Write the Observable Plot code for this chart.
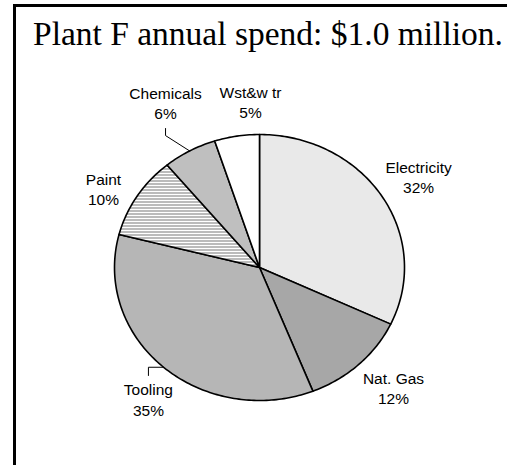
<!DOCTYPE html>
<html><head><meta charset="utf-8">
<script src="https://cdn.jsdelivr.net/npm/d3@7"></script>
<script src="https://cdn.jsdelivr.net/npm/@observablehq/plot@0.6"></script>
<style>
html,body{margin:0;padding:0;background:#fff;}
#wrap{position:relative;width:507px;height:465px;overflow:hidden;background:#fff;}
#frame{position:absolute;left:13px;top:4px;width:700px;height:700px;border-top:3px solid #000;border-left:3px solid #000;box-sizing:border-box;}
#title{position:absolute;left:33px;top:17px;font-family:"Liberation Serif","Times New Roman",serif;font-size:33.5px;line-height:33.5px;white-space:nowrap;color:#000;}
#chart{position:absolute;left:0;top:60px;}
</style></head>
<body>
<div id="wrap">
  <div id="frame"></div>
  <div id="title">Plant F annual spend: $1.0 million.</div>
  <div id="chart"></div>
</div>
<script>
// ---- data ----
const categories = ["Electricity", "Nat. Gas", "Tooling", "Paint", "Chemicals", "Wst&w tr"];
const shares = [32, 12, 35, 10, 6, 5];
const pctLabels = ["32%", "12%", "35%", "10%", "6%", "5%"];

// ---- layout (pie units, y up) ----
const labelPos = [[1.097, 0.684], [0.924, -0.902], [-0.766, -0.989], [-1.076, 0.594], [-0.648, 1.241], [-0.062, 1.248]];
// leader lines: slice index, start y, elbow y (x taken from label)
const leaders = [{i: 4, y0: 1.045, y1: 0.992}, {i: 2, y0: -0.812, y1: null}];
const fills = ["url(#pElec)", "url(#pGas)", "url(#pTool)", "url(#pPaint)", "url(#pChem)", "#ffffff"];

// ---- geometry from data ----
const total = d3.sum(shares);
let acc = 0;
const slices = categories.map((c, i) => {
  const a0 = acc / total * 2 * Math.PI;
  acc += shares[i];
  const a1 = acc / total * 2 * Math.PI;
  return {c, i, a0, a1, mid: (a0 + a1) / 2};
});
function slicePts(s) {
  const p = [{x: 0, y: 0}];
  const n = Math.max(2, Math.ceil((s.a1 - s.a0) / (Math.PI / 180)));
  for (let k = 0; k <= n; k++) {
    const a = s.a0 + (s.a1 - s.a0) * k / n;
    p.push({x: Math.sin(a), y: Math.cos(a)});
  }
  p.push({x: 0, y: 0});
  return p;
}
const labels = categories.map((c, i) => ({x: labelPos[i][0], y: labelPos[i][1], t: c + "\n" + pctLabels[i]}));
const leaderPts = [];
leaders.forEach((L, k) => {
  const s = slices[L.i];
  const ex = Math.sin(s.mid), ey = Math.cos(s.mid);
  const lx = labelPos[L.i][0];
  leaderPts.push({k, x: lx, y: L.y0});
  leaderPts.push({k, x: lx, y: L.y1 == null ? ey : L.y1});
  leaderPts.push({k, x: ex, y: ey});
});

const cx = 259, cy = 207, rx = 145, ry = 133;
const svg = Plot.plot({
  width: 507,
  height: 405,
  margin: 0,
  x: {domain: [-1, 1], range: [cx - rx, cx + rx], axis: null},
  y: {domain: [-1, 1], range: [cy + ry, cy - ry], axis: null},
  style: {fontFamily: "'Liberation Sans', Arial, sans-serif", fontSize: "15.5px", background: "transparent", color: "#000"},
  marks: [
    ...slices.map(s => Plot.line(slicePts(s), {x: "x", y: "y", fill: fills[s.i], stroke: "#000", strokeWidth: 1.6, strokeLinejoin: "round", curve: "linear"})),
    Plot.line(leaderPts, {x: "x", y: "y", z: "k", stroke: "#000", strokeWidth: 1}),
    Plot.text(labels, {x: "x", y: "y", text: "t", fontSize: 15.5, lineHeight: 1.3, fill: "#000", textAnchor: "middle"})
  ]
});

// patterns
const defs = d3.select(svg).insert("defs", ":first-child");
function pattern(id, w, h, bg, cells) {
  const p = defs.append("pattern").attr("id", id).attr("patternUnits", "userSpaceOnUse").attr("width", w).attr("height", h);
  p.append("rect").attr("width", w).attr("height", h).attr("fill", bg);
  cells.forEach(([x, y, cw, ch, col]) => p.append("rect").attr("x", x).attr("y", y).attr("width", cw).attr("height", ch).attr("fill", col));
}
pattern("pElec", 2, 2, "#ffffff", [[0, 0, 1, 1, "#a8a8a8"]]);
pattern("pGas", 2, 2, "#d4d4d4", [[0, 0, 1, 1, "#7a7a7a"], [1, 1, 1, 1, "#7a7a7a"]]);
pattern("pChem", 2, 2, "#e4e4e4", [[0, 0, 1, 1, "#9a9a9a"], [1, 1, 1, 1, "#9a9a9a"]]);
pattern("pTool", 2, 2, "#e2e2e2", [[0, 0, 1, 2, "#8a8a8a"]]);
pattern("pPaint", 3, 3, "#ffffff", [[0, 0, 3, 1, "#777777"]]);

document.getElementById("chart").appendChild(svg);
</script>
</body></html>
